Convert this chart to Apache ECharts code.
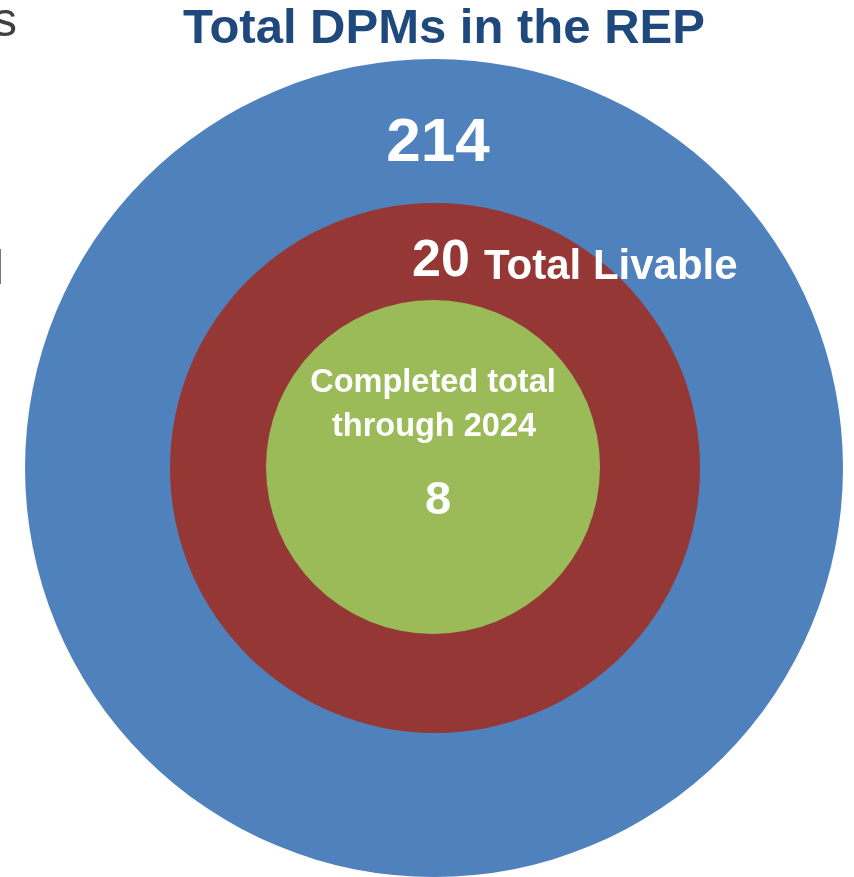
<!DOCTYPE html>
<html>
<head>
<meta charset="utf-8">
<title>Total DPMs in the REP</title>
<script src="https://cdn.jsdelivr.net/npm/echarts@6/dist/echarts.min.js"></script>
<style>
  html, body { margin: 0; padding: 0; background: #fff; }
  #main { width: 854px; height: 877px; }
</style>
</head>
<body>
<div id="main"></div>
<script>
// values, outer ring to inner disc
var ringNames = ['Total DPMs in the REP', 'Total Livable', 'Completed total through 2024'];
var ringValues = [214, 20, 8];
var ringColors = ['#4F81BD', '#953735', '#9BBB59'];

var chart = echarts.init(document.getElementById('main'));
var font = 'Liberation Sans, Arial, sans-serif';

// one full disc per level, drawn as a single-slice pie
function disc(i, radius, center) {
  return {
    type: 'pie',
    name: ringNames[i],
    radius: [0, radius],
    center: center,
    silent: true,
    startAngle: 90,
    label: { show: false },
    labelLine: { show: false },
    itemStyle: { color: ringColors[i] },
    data: [{ name: ringNames[i], value: ringValues[i] }]
  };
}

function txt(text, x, y, size, align, color, weight) {
  return {
    type: 'text',
    z: 100,
    style: {
      text: text,
      x: x,
      y: y,
      fill: color || '#fff',
      align: align || 'center',
      verticalAlign: 'middle',
      font: (weight || 'bold') + ' ' + size + 'px ' + font
    }
  };
}

var option = {
  animation: false,
  backgroundColor: '#fff',
  series: [
    disc(0, 409, [434, 468]),
    disc(1, 265, [435, 468]),
    disc(2, 167, [433, 467])
  ],
  graphic: [
    txt('Total DPMs in the REP', 444, 29, 49, 'center', '#1F497D'),
    // cut-off text at the left edge of the slide
    txt('s', 17, 23, 48, 'right', '#404040', 'normal'),
    txt('l', 4, 271, 48, 'right', '#404040', 'normal'),
    txt(String(ringValues[0]), 438, 144, 62),
    txt(String(ringValues[1]), 412, 262, 52, 'left'),
    txt(ringNames[1], 484, 267, 42, 'left'),
    txt('Completed total', 433, 383, 32.5),
    txt('through 2024', 434, 427, 32.5),
    txt(String(ringValues[2]), 438, 501, 47)
  ]
};

chart.setOption(option);
</script>
</body>
</html>
